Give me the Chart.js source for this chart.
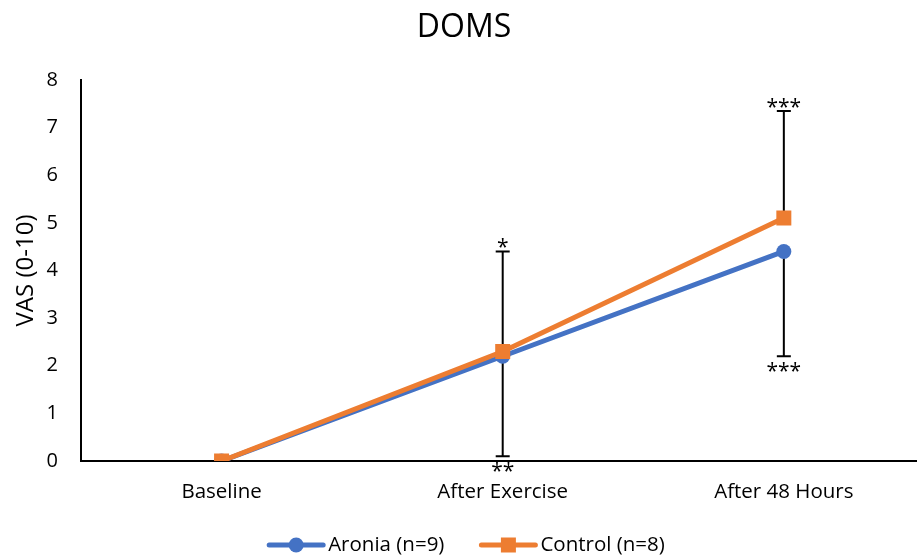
<!DOCTYPE html>
<html>
<head>
<meta charset="utf-8">
<script src="https://cdn.jsdelivr.net/npm/chart.js@4/dist/chart.umd.min.js"></script>
<style>
  html, body { margin: 0; padding: 0; background: #ffffff; overflow: hidden; }
  /* the plot area runs a little past the right edge of the window */
  #wrap { position: relative; width: 935px; height: 559px; }
</style>
</head>
<body>
<div id="wrap"><canvas id="chart"></canvas></div>
<script>
// Time points and VAS soreness scores
const categories = ['Baseline', 'After Exercise', 'After 48 Hours'];
const aroniaValues = [0, 2.2, 4.4];
const controlValues = [0, 2.3, 5.1];
// One-sided error bars: Control upward, Aronia downward
const controlErrorPlus = [0, 2.1, 2.25];
const aroniaErrorMinus = [0, 2.1, 2.2];
// Significance markers drawn above / below the error bars
const sigAbove = ['', '*', '***'];
const sigBelow = ['', '**', '***'];
const yTickValues = [0, 1, 2, 3, 4, 5, 6, 7, 8];

const FONT = '"Open Sans", "DejaVu Sans", sans-serif';
const BLUE = '#4472C4';
const ORANGE = '#ED7D31';

// Error bars (drawn under the lines and markers)
const errorBarPlugin = {
  id: 'errorBars',
  beforeDatasetsDraw(chart) {
    const { ctx, scales: { x, y } } = chart;
    const cap = 7;
    ctx.save();
    ctx.strokeStyle = '#000';
    ctx.lineWidth = 2;
    const bar = (px, v0, v1) => {
      const y0 = y.getPixelForValue(v0), y1 = y.getPixelForValue(v1);
      ctx.beginPath();
      ctx.moveTo(px, y0); ctx.lineTo(px, y1);
      ctx.moveTo(px - cap, y1); ctx.lineTo(px + cap, y1);
      ctx.stroke();
    };
    categories.forEach((c, i) => {
      const px = x.getPixelForValue(i);
      if (controlErrorPlus[i] > 0) bar(px, controlValues[i], controlValues[i] + controlErrorPlus[i]);
      if (aroniaErrorMinus[i] > 0) bar(px, aroniaValues[i], aroniaValues[i] - aroniaErrorMinus[i]);
    });
    ctx.restore();
  }
};

// Asterisk annotations beside the error-bar caps
const sigPlugin = {
  id: 'sigMarks',
  afterDatasetsDraw(chart) {
    const { ctx, scales: { x, y } } = chart;
    ctx.save();
    ctx.fillStyle = '#000';
    ctx.font = '21px ' + FONT;
    ctx.textAlign = 'center';
    ctx.textBaseline = 'alphabetic';
    const starRise = 13; // asterisk sits high in the em box
    categories.forEach((c, i) => {
      const px = x.getPixelForValue(i);
      if (sigAbove[i]) {
        const top = y.getPixelForValue(controlValues[i] + controlErrorPlus[i]);
        ctx.fillText(sigAbove[i], px, top - 10 + starRise);
      }
      if (sigBelow[i]) {
        const bot = y.getPixelForValue(aroniaValues[i] - aroniaErrorMinus[i]);
        ctx.fillText(sigBelow[i], px, bot + 9 + starRise);
      }
    });
    ctx.restore();
  }
};

// Legend with a line-and-marker swatch per series
const lineLegendPlugin = {
  id: 'lineLegend',
  afterDraw(chart, args, opts) {
    const ctx = chart.ctx;
    ctx.save();
    ctx.font = opts.font;
    const items = chart.data.datasets.map(ds => ({
      ds, w: opts.lineLength + opts.textGap + ctx.measureText(ds.label).width
    }));
    const total = items.reduce((s, it) => s + it.w, 0) + opts.itemGap * (items.length - 1);
    let x = opts.centerX - total / 2;
    const cy = opts.centerY;
    items.forEach(({ ds, w }) => {
      ctx.strokeStyle = ds.borderColor;
      ctx.fillStyle = ds.borderColor;
      ctx.lineWidth = ds.borderWidth;
      ctx.lineCap = 'round';
      ctx.beginPath();
      ctx.moveTo(x + 2, cy); ctx.lineTo(x + opts.lineLength - 2, cy);
      ctx.stroke();
      const mx = x + opts.lineLength / 2;
      if (ds.pointStyle === 'rect') {
        const s = Math.SQRT1_2 * ds.pointRadius;
        ctx.fillRect(mx - s, cy - s, 2 * s, 2 * s);
      } else {
        ctx.beginPath();
        ctx.arc(mx, cy, ds.pointRadius, 0, Math.PI * 2);
        ctx.fill();
      }
      ctx.fillStyle = '#000';
      ctx.textAlign = 'left';
      ctx.textBaseline = 'middle';
      ctx.fillText(ds.label, x + opts.lineLength + opts.textGap, cy);
      x += w + opts.itemGap;
    });
    ctx.restore();
  }
};

new Chart(document.getElementById('chart'), {
  type: 'line',
  data: {
    labels: categories,
    datasets: [
      {
        label: 'Aronia (n=9)',
        data: aroniaValues,
        borderColor: BLUE,
        backgroundColor: BLUE,
        borderWidth: 5,
        pointStyle: 'circle',
        pointRadius: 7.5,
        pointBorderWidth: 0,
        pointHoverRadius: 7.5,
        tension: 0,
        order: 1
      },
      {
        label: 'Control (n=8)',
        data: controlValues,
        borderColor: ORANGE,
        backgroundColor: ORANGE,
        borderWidth: 5,
        pointStyle: 'rect',
        pointRadius: 10.6,
        pointBorderWidth: 0,
        pointHoverRadius: 10.6,
        tension: 0,
        order: 0
      }
    ]
  },
  options: {
    responsive: true,
    maintainAspectRatio: false,
    animation: false,
    devicePixelRatio: 1,
    layout: { padding: { left: 0, right: 7, top: 0, bottom: 48 } },
    plugins: {
      legend: { display: false },
      tooltip: { enabled: false },
      title: {
        display: true,
        text: 'DOMS',
        color: '#000',
        font: { family: FONT, size: 32, weight: 'normal' },
        padding: { top: 9, bottom: 32.6 }
      },
      lineLegend: {
        font: '20.5px ' + FONT,
        centerX: 466,
        centerY: 545,
        lineLength: 58,
        textGap: 3,
        itemGap: 35
      }
    },
    scales: {
      x: {
        type: 'category',
        offset: true,
        grid: { display: false, drawTicks: false },
        border: { display: true, color: '#000', width: 2 },
        ticks: { color: '#000', font: { family: FONT, size: 20.5 }, padding: 19, maxRotation: 0 },
        afterFit(scale) { scale.height = 50; }
      },
      y: {
        type: 'linear',
        min: 0,
        max: 8,
        afterBuildTicks(scale) { scale.ticks = yTickValues.map(v => ({ value: v })); },
        grid: { display: false, drawTicks: false },
        border: { display: true, color: '#000', width: 2 },
        ticks: { color: '#000', font: { family: FONT, size: 20 }, padding: 23 },
        title: {
          display: true,
          text: 'VAS (0-10)',
          color: '#000',
          font: { family: FONT, size: 24 },
          padding: { top: 12, bottom: 0 }
        },
        afterFit(scale) { scale.width = 81; }
      }
    }
  },
  plugins: [errorBarPlugin, sigPlugin, lineLegendPlugin]
});
</script>
</body>
</html>
